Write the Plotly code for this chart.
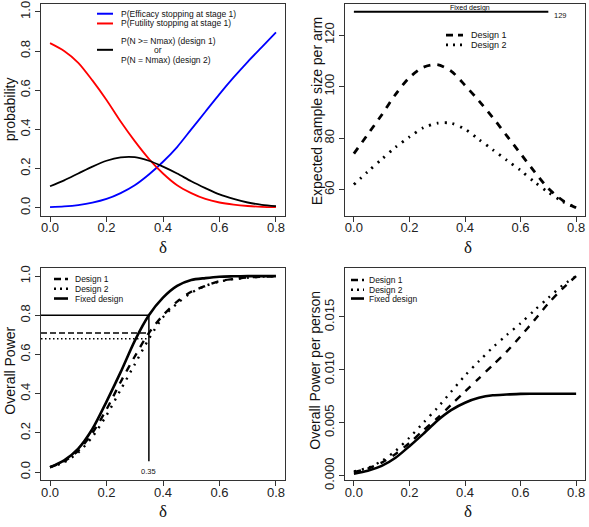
import plotly.graph_objects as go

# ---------------- data ----------------
delta = [0.00, 0.05, 0.10, 0.15, 0.20, 0.25, 0.30, 0.35, 0.40,
         0.45, 0.50, 0.55, 0.60, 0.65, 0.70, 0.75, 0.80]

# panel 1: stage-1 stopping probabilities
p_efficacy = [0.003, 0.007, 0.014, 0.026, 0.045, 0.075, 0.115, 0.17, 0.235,
              0.31, 0.40, 0.49, 0.58, 0.665, 0.745, 0.82, 0.895]
p_futility = [0.84, 0.80, 0.74, 0.65, 0.55, 0.44, 0.34, 0.25, 0.175,
              0.115, 0.075, 0.045, 0.027, 0.016, 0.009, 0.005, 0.003]
p_nmax = [0.11, 0.14, 0.175, 0.21, 0.24, 0.257, 0.258, 0.24, 0.21,
          0.175, 0.135, 0.10, 0.068, 0.045, 0.027, 0.015, 0.008]

# panel 2: expected sample size per arm
ess_design1 = [74, 81.5, 89, 97, 103.5, 107.5, 108.5, 106, 100.5,
               94.5, 88, 81, 74, 67, 60.5, 56, 53]
ess_design2 = [62, 67, 71.8, 76.5, 80.5, 84, 85.8, 85.8, 83.5,
               79.5, 75.5, 71.5, 67.5, 63, 59, 55.5, 53]
fixed_n = 129
fixed_line_delta = [0.0, 0.7]

# panel 3: overall power
power_design1 = [0.025, 0.055, 0.11, 0.20, 0.32, 0.46, 0.59, 0.71, 0.80,
                 0.87, 0.92, 0.95, 0.975, 0.985, 0.993, 0.997, 1.0]
power_design2 = [0.025, 0.05, 0.10, 0.18, 0.29, 0.42, 0.55, 0.68, 0.79,
                 0.86, 0.915, 0.95, 0.972, 0.985, 0.992, 0.997, 1.0]
power_fixed = [0.025, 0.06, 0.12, 0.22, 0.36, 0.51, 0.67, 0.80, 0.89,
               0.95, 0.98, 0.99, 0.997, 0.999, 1.0, 1.0, 1.0]
target_power = 0.80
target_delta = 0.35
target_index = 7
vline_bottom = 0.055

# panel 4: overall power per person
ppp_design1 = [0.00034, 0.00067, 0.00124, 0.00206, 0.00309, 0.00428, 0.00544,
               0.0067, 0.00796, 0.0092, 0.01045, 0.01173, 0.01318, 0.0147,
               0.01628, 0.01765, 0.01887]
ppp_design2 = [0.0004, 0.00075, 0.00139, 0.00235, 0.0036, 0.005, 0.0064,
               0.00793, 0.00946, 0.01082, 0.01212, 0.01329, 0.0144, 0.01563,
               0.01681, 0.01796, 0.01887]
ppp_fixed = [0.00019, 0.00047, 0.00093, 0.0017, 0.00279, 0.00395, 0.0052,
             0.0062, 0.0069, 0.00736, 0.0076, 0.00767, 0.00773, 0.00774,
             0.00775, 0.00775, 0.00775]

x_ticks = [0.0, 0.2, 0.4, 0.6, 0.8]
y1_ticks = [0.0, 0.2, 0.4, 0.6, 0.8, 1.0]
y2_ticks = [60, 80, 100, 120]
y3_ticks = [0.0, 0.2, 0.4, 0.6, 0.8, 1.0]
y4_ticks = [0.000, 0.005, 0.010, 0.015]

# ---------------- styling ----------------
W, H = 589, 527
SANS = "Liberation Sans, Arial, sans-serif"
SERIF = "Liberation Serif, Times New Roman, serif"
AX = "#333333"
DASH = "7px,7px"
DOT = "2px,6px"


def px(x):
    return x / W


def py(y):
    return 1 - y / H


fig = go.Figure()


def add(x, y, xa, ya, color="black", width=2.5, dash="solid", name=""):
    fig.add_trace(go.Scatter(x=x, y=y, xaxis=xa, yaxis=ya, mode="lines",
                             name=name, showlegend=False,
                             line=dict(color=color, width=width, dash=dash,
                                       shape="spline", smoothing=0.8)))


# panel 1
add(delta, p_efficacy, "x", "y", "blue", 1.8, name="P(Efficacy stopping at stage 1)")
add(delta, p_futility, "x", "y", "red", 1.8, name="P(Futility stopping at stage 1)")
add(delta, p_nmax, "x", "y", "black", 1.8, name="P(N >= Nmax)")

# panel 2
fig.add_trace(go.Scatter(x=fixed_line_delta, y=[fixed_n, fixed_n], xaxis="x2", yaxis="y2",
                         mode="lines", showlegend=False, name="Fixed design",
                         line=dict(color="black", width=2)))
add(delta, ess_design1, "x2", "y2", width=2.8, dash=DASH, name="Design 1")
add(delta, ess_design2, "x2", "y2", width=2.8, dash=DOT, name="Design 2")

# panel 3
add(delta, power_fixed, "x3", "y3", width=2.6, name="Fixed design")
add(delta, power_design1, "x3", "y3", width=2.4, dash=DASH, name="Design 1")
add(delta, power_design2, "x3", "y3", width=2.4, dash=DOT, name="Design 2")
fig.add_trace(go.Scatter(x=[target_delta, target_delta], y=[vline_bottom, target_power],
                         xaxis="x3", yaxis="y3", mode="lines", showlegend=False,
                         line=dict(color="black", width=1.5)))

# panel 4
add(delta, ppp_fixed, "x4", "y4", width=2.6, name="Fixed design")
add(delta, ppp_design1, "x4", "y4", width=2.4, dash=DASH, name="Design 1")
add(delta, ppp_design2, "x4", "y4", width=2.4, dash=DOT, name="Design 2")

shapes = []
# horizontal reference lines in panel 3 (from the left edge of the box)
for val, dash, wd in [(target_power, "solid", 1.5),
                      (power_design1[target_index], "6px,3px", 1.5),
                      (power_design2[target_index], "1.5px,2.5px", 1.5)]:
    shapes.append(dict(type="line", xref="x3 domain", yref="y3", x0=0,
                       x1=(target_delta + 0.032) / 0.864, y0=val, y1=val,
                       line=dict(color="black", width=wd, dash=dash)))


def leg_line(x0, x1, y, color="black", width=2, dash="solid"):
    shapes.append(dict(type="line", xref="paper", yref="paper",
                       x0=px(x0), x1=px(x1), y0=py(y), y1=py(y),
                       line=dict(color=color, width=width, dash=dash)))


ann = []


def text(t, x, y, size=8.5, xanchor="left", family=SANS, angle=0, color="#111"):
    ann.append(dict(text=t, x=px(x), y=py(y), xref="paper", yref="paper",
                    xanchor=xanchor, yanchor="middle", showarrow=False,
                    textangle=angle, font=dict(size=size, family=family, color=color)))


# panel 1 legend
leg_line(97, 113, 11, "blue", 2)
leg_line(97, 113, 21, "red", 2)
leg_line(97, 113, 48, "black", 2)
text("P(Efficacy stopping at stage 1)", 119, 11)
text("P(Futility stopping at stage 1)", 119, 21)
text("P(N >= Nmax) (design 1)", 119, 38.5)
text("or", 158, 48.5, xanchor="center")
text("P(N = Nmax) (design 2)", 119, 58.5)

# panel 2 legend + fixed label
leg_line(446, 463, 33, width=2.8, dash="7px,5px")
leg_line(446, 463, 43, width=2.8, dash="2px,5px")
text("Design 1", 469, 33, 9)
text("Design 2", 469, 43, 9)
text("Fixed design", 470, 5.5, 7, xanchor="center", color="#000")
text("129", 560, 12.5, 7.5, xanchor="center")

# panel 3 legend
leg_line(54, 68, 283, width=2.4, dash="7px,4px")
leg_line(54, 68, 293, width=2.4, dash="2px,4px")
leg_line(54, 68, 303, width=2.6)
text("Design 1", 73, 283, 8.5)
text("Design 2", 73, 293, 8.5)
text("Fixed design", 73, 303, 8.5)
ann.append(dict(text="0.35", x=target_delta, y=0.005, xref="x3", yref="y3",
                showarrow=False, font=dict(size=7.5, family=SANS, color="#111")))

# panel 4 legend
leg_line(351, 364, 284, width=2.4, dash="7px,4px")
leg_line(351, 364, 294, width=2.4, dash="2px,4px")
leg_line(351, 364, 303, width=2.6)
text("Design 1", 367, 284, 8.5)
text("Design 2", 367, 294, 8.5)
text("Fixed design", 367, 303, 8.5)

# axis titles
text("probability", 10, 109, 14, "center", angle=-90)
text("Expected sample size per arm", 317, 111, 14, "center", angle=-90)
text("Overall Power", 10, 377, 14, "center", angle=-90)
text("Overall Power per person", 315, 377, 14, "center", angle=-90)
for cx, cy in [(163, 251), (468, 251), (163, 521), (468, 521)]:
    text("δ", cx, cy, 17, "center", family=SERIF)

common = dict(showline=True, mirror=True, linecolor=AX, linewidth=1,
              ticks="outside", ticklen=5, tickcolor=AX, tickwidth=1,
              showgrid=False, zeroline=False,
              tickfont=dict(size=13, family=SANS, color="#222"))

L1, R1 = px(41), px(285)
L2, R2 = px(345), px(585)
TOP = (py(218), py(1))
BOT = (py(489), py(272))

xcommon = dict(range=[-0.032, 0.832], tickvals=x_ticks, tickformat=".1f",
               ticklabelstandoff=-5, **common)

fig.update_layout(
    width=W, height=H, margin=dict(l=0, r=0, t=0, b=0),
    paper_bgcolor="white", plot_bgcolor="white", showlegend=False,
    xaxis=dict(domain=[L1, R1], anchor="y", **xcommon),
    yaxis=dict(domain=list(TOP), anchor="x", range=[-0.04, 1.04],
               tickvals=y1_ticks, tickformat=".1f", tickangle=-90, **common),
    xaxis2=dict(domain=[L2, R2], anchor="y2", **xcommon),
    yaxis2=dict(domain=list(TOP), anchor="x2", range=[49.96, 132.04],
                tickvals=y2_ticks, tickformat="d", tickangle=-90, **common),
    xaxis3=dict(domain=[L1, R1], anchor="y3", **xcommon),
    yaxis3=dict(domain=list(BOT), anchor="x3", range=[-0.04, 1.04],
                tickvals=y3_ticks, tickformat=".1f", tickangle=-90, **common),
    xaxis4=dict(domain=[L2, R2], anchor="y4", **xcommon),
    yaxis4=dict(domain=list(BOT), anchor="x4", range=[-0.0004, 0.0196],
                tickvals=y4_ticks, tickformat=".3f", tickangle=-90, **common),
    shapes=shapes, annotations=ann,
)

fig.write_html("out.html", config={"displayModeBar": False},
               post_script="document.body.style.margin='0';"
                           "document.body.style.overflow='hidden';")
